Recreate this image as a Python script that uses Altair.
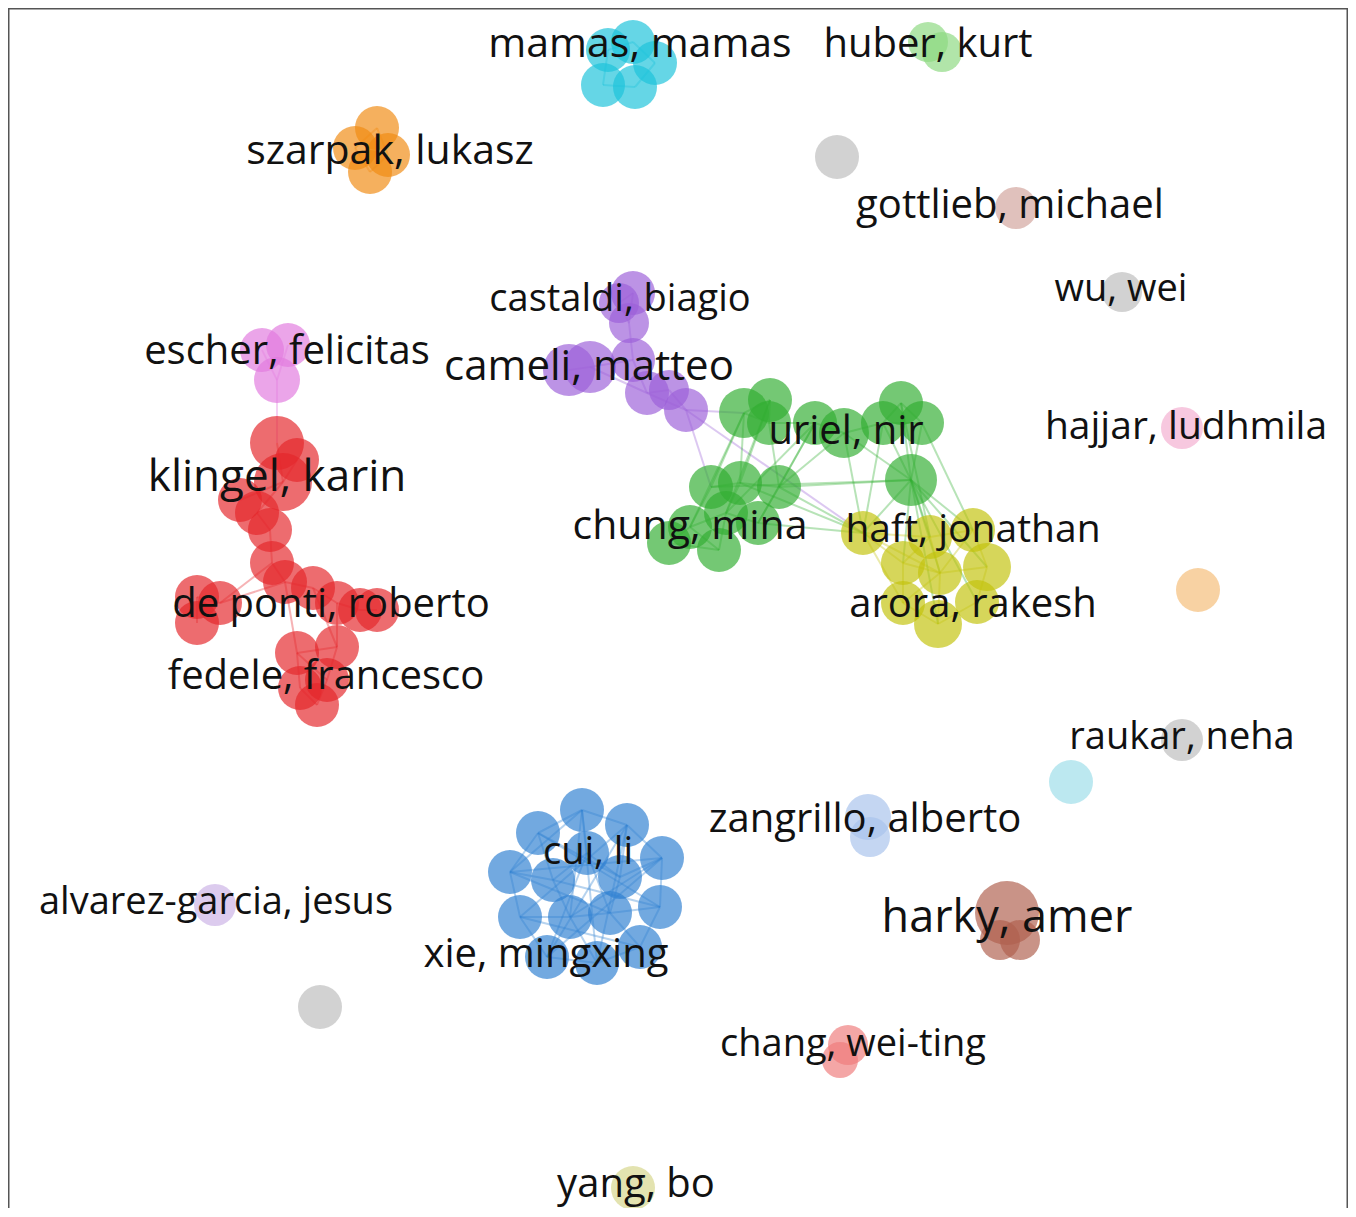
import altair as alt
import pandas as pd

# ---------------- data ----------------
cluster_names = ["red", "pink", "purple", "green", "yellow", "blue", "cyan", "lightgreen",
                 "orange", "gray", "rosy", "lightpink", "peach", "lightblue", "lightcyan",
                 "brown", "lavender", "salmon", "khaki"]
cluster_colors = ["#e4262b", "#e27ade", "#9c60d8", "#32ae32", "#c2c20c", "#2f80d2", "#1cc2da",
                  "#8cd880", "#f08a12", "#bcbcbc", "#d2a49c", "#f3aed0", "#f5bc78", "#a8c2ec",
                  "#9cdde9", "#b0604e", "#cbb2e6", "#ef7c7c", "#d6d68a"]

# node layout coordinates (x, y) and node weight (diameter)
nodes = {
    "red": [(277, 443, 54), (297, 460, 44), (283, 482, 58), (240, 500, 44), (257, 513, 44),
            (270, 530, 44), (272, 563, 44), (285, 582, 44), (313, 588, 44), (337, 603, 44),
            (360, 610, 44), (377, 610, 44), (197, 597, 44), (220, 603, 44), (197, 623, 44),
            (337, 647, 44), (297, 653, 44), (327, 680, 44), (300, 688, 44), (317, 705, 44)],
    "pink": [(262, 350, 44), (288, 345, 44), (277, 380, 46)],
    "purple": [(633, 293, 44), (619, 303, 40), (629, 323, 40), (569, 370, 52), (590, 367, 52),
               (633, 360, 44), (647, 393, 44), (669, 390, 40), (686, 410, 44)],
    "green": [(744, 413, 50), (770, 400, 44), (769, 423, 44), (815, 423, 44), (844, 433, 50),
              (901, 403, 44), (883, 423, 44), (922, 423, 44), (911, 480, 52), (711, 487, 44),
              (740, 483, 44), (779, 487, 44), (690, 527, 44), (726, 513, 44), (758, 523, 44),
              (669, 543, 44), (719, 550, 44)],
    "yellow": [(863, 533, 44), (903, 563, 44), (930, 537, 44), (973, 530, 44), (940, 573, 44),
               (987, 567, 48), (903, 603, 44), (938, 624, 48), (977, 602, 44)],
    "blue": [(582, 810, 44), (538, 833, 44), (627, 825, 44), (510, 872, 44), (662, 858, 44),
             (553, 880, 44), (587, 853, 44), (620, 877, 44), (520, 917, 44), (570, 917, 44),
             (610, 913, 44), (660, 907, 44), (547, 957, 44), (597, 963, 44), (640, 947, 44)],
    "cyan": [(633, 42, 44), (608, 50, 44), (655, 63, 44), (603, 85, 44), (635, 87, 44)],
    "lightgreen": [(928, 42, 40), (942, 52, 40)],
    "orange": [(377, 128, 44), (355, 148, 44), (388, 155, 44), (370, 172, 44)],
    "gray": [(837, 157, 44), (1122, 292, 40), (1182, 740, 42), (320, 1007, 44)],
    "rosy": [(1016, 208, 42)],
    "lightpink": [(1182, 428, 42)],
    "peach": [(1198, 590, 44)],
    "lightblue": [(868, 817, 46), (870, 837, 40)],
    "lightcyan": [(1071, 782, 44)],
    "brown": [(1007, 913, 64), (1000, 940, 40), (1020, 940, 40)],
    "lavender": [(215, 905, 42)],
    "salmon": [(848, 1045, 40), (840, 1060, 36)],
    "khaki": [(633, 1188, 44)],
}

# links: (cluster_a, index_a, cluster_b, index_b)
links = [
    ("pink", 0, "pink", 2), ("pink", 1, "pink", 2), ("pink", 2, "red", 0),
    ("red", 0, "red", 2), ("red", 1, "red", 2), ("red", 2, "red", 3), ("red", 2, "red", 4),
    ("red", 4, "red", 5), ("red", 5, "red", 6), ("red", 6, "red", 7), ("red", 7, "red", 8),
    ("red", 8, "red", 9), ("red", 9, "red", 10), ("red", 10, "red", 11), ("red", 6, "red", 13),
    ("red", 13, "red", 12), ("red", 12, "red", 14), ("red", 7, "red", 16), ("red", 8, "red", 15),
    ("red", 15, "red", 17), ("red", 16, "red", 18), ("red", 18, "red", 19), ("red", 17, "red", 19),
    ("red", 16, "red", 15), ("red", 9, "red", 15), ("red", 16, "red", 17), ("red", 13, "red", 7),
    ("purple", 0, "purple", 1), ("purple", 0, "purple", 2), ("purple", 1, "purple", 2),
    ("purple", 2, "purple", 5), ("purple", 3, "purple", 4), ("purple", 4, "purple", 5),
    ("purple", 5, "purple", 6), ("purple", 6, "purple", 7), ("purple", 7, "purple", 8),
    ("purple", 6, "purple", 8), ("purple", 4, "purple", 6),
    ("purple", 8, "green", 0), ("purple", 8, "green", 9), ("purple", 8, "yellow", 0),
    ("green", 0, "green", 1), ("green", 0, "green", 2), ("green", 1, "green", 2),
    ("green", 2, "green", 3), ("green", 3, "green", 4), ("green", 4, "green", 6),
    ("green", 5, "green", 6), ("green", 5, "green", 7), ("green", 6, "green", 7),
    ("green", 6, "green", 8), ("green", 7, "green", 8), ("green", 5, "green", 8),
    ("green", 4, "green", 8), ("green", 0, "green", 9), ("green", 0, "green", 10),
    ("green", 1, "green", 10), ("green", 2, "green", 11), ("green", 3, "green", 11),
    ("green", 9, "green", 10), ("green", 10, "green", 11), ("green", 9, "green", 12),
    ("green", 10, "green", 13), ("green", 11, "green", 14), ("green", 12, "green", 15),
    ("green", 13, "green", 16), ("green", 12, "green", 13), ("green", 13, "green", 14),
    ("green", 11, "green", 8), ("green", 9, "green", 8), ("green", 0, "green", 12),
    ("green", 1, "green", 13), ("green", 3, "green", 14), ("green", 4, "green", 11),
    ("green", 15, "green", 16), ("green", 12, "green", 16), ("green", 3, "green", 13),
    ("green", 8, "yellow", 0), ("green", 8, "yellow", 1), ("green", 8, "yellow", 2),
    ("green", 8, "yellow", 3), ("green", 8, "yellow", 4), ("green", 8, "yellow", 5),
    ("green", 8, "yellow", 7), ("green", 8, "yellow", 8), ("green", 6, "yellow", 0),
    ("green", 4, "yellow", 0), ("green", 14, "yellow", 0), ("green", 11, "yellow", 0),
    ("green", 7, "yellow", 3), ("green", 5, "yellow", 2), ("green", 10, "yellow", 0),
    ("yellow", 0, "yellow", 1), ("yellow", 0, "yellow", 2), ("yellow", 1, "yellow", 2),
    ("yellow", 1, "yellow", 4), ("yellow", 2, "yellow", 3), ("yellow", 2, "yellow", 4),
    ("yellow", 3, "yellow", 5), ("yellow", 4, "yellow", 5), ("yellow", 4, "yellow", 6),
    ("yellow", 4, "yellow", 7), ("yellow", 5, "yellow", 8), ("yellow", 6, "yellow", 7),
    ("yellow", 7, "yellow", 8), ("yellow", 1, "yellow", 6), ("yellow", 3, "yellow", 4),
    ("yellow", 0, "yellow", 6), ("yellow", 0, "yellow", 4),
    ("blue", 0, "blue", 1), ("blue", 0, "blue", 2), ("blue", 0, "blue", 6), ("blue", 0, "blue", 9),
    ("blue", 0, "blue", 13), ("blue", 1, "blue", 3), ("blue", 1, "blue", 5), ("blue", 1, "blue", 7),
    ("blue", 1, "blue", 11), ("blue", 2, "blue", 4), ("blue", 2, "blue", 7), ("blue", 2, "blue", 8),
    ("blue", 2, "blue", 12), ("blue", 3, "blue", 5), ("blue", 3, "blue", 8), ("blue", 3, "blue", 10),
    ("blue", 3, "blue", 4), ("blue", 4, "blue", 7), ("blue", 4, "blue", 11), ("blue", 4, "blue", 9),
    ("blue", 5, "blue", 9), ("blue", 5, "blue", 6), ("blue", 6, "blue", 7), ("blue", 6, "blue", 10),
    ("blue", 7, "blue", 10), ("blue", 8, "blue", 9), ("blue", 8, "blue", 12), ("blue", 8, "blue", 14),
    ("blue", 9, "blue", 10), ("blue", 9, "blue", 13), ("blue", 10, "blue", 11), ("blue", 10, "blue", 14),
    ("blue", 11, "blue", 14), ("blue", 12, "blue", 13), ("blue", 13, "blue", 14), ("blue", 12, "blue", 4),
    ("blue", 5, "blue", 11), ("blue", 6, "blue", 12), ("blue", 0, "blue", 3), ("blue", 2, "blue", 13),
    ("cyan", 0, "cyan", 1), ("cyan", 0, "cyan", 2), ("cyan", 1, "cyan", 3), ("cyan", 3, "cyan", 4),
    ("cyan", 2, "cyan", 4),
    ("orange", 0, "orange", 1), ("orange", 0, "orange", 2), ("orange", 1, "orange", 3),
    ("orange", 2, "orange", 3),
]

label_text = ["mamas, mamas", "huber, kurt", "szarpak, lukasz", "gottlieb, michael", "wu, wei",
              "castaldi, biagio", "escher, felicitas", "cameli, matteo", "hajjar, ludhmila",
              "uriel, nir", "klingel, karin", "chung, mina", "haft, jonathan", "de ponti, roberto",
              "arora, rakesh", "fedele, francesco", "raukar, neha", "zangrillo, alberto", "cui, li",
              "alvarez-garcia, jesus", "harky, amer", "xie, mingxing", "chang, wei-ting", "yang, bo"]
label_x = [640, 928, 390, 1010, 1121, 620, 287, 589, 1186, 846, 277, 690, 973, 331, 973, 326,
           1182, 865, 588, 216, 1007, 546, 853, 636]
label_y = [45, 45, 152, 206, 290, 300, 352, 367, 427, 432, 478, 527, 530, 605, 605, 677, 738,
           820, 853, 903, 918, 955, 1045, 1185]
label_weight = [41, 40, 41, 40, 38, 38, 40, 42, 39, 40, 44, 41, 39, 40, 40, 40, 38, 40, 38, 38,
                45, 40, 38, 40]

# ---------------- tables ----------------
node_rows = []
for c, lst in nodes.items():
    for (x, y, d) in lst:
        node_rows.append({"cluster": c, "x": x, "y": y, "d": d})
node_df = pd.DataFrame(node_rows)

edge_rows = []
for (ca, ia, cb, ib) in links:
    xa, ya, _ = nodes[ca][ia]
    xb, yb, _ = nodes[cb][ib]
    edge_rows.append({"cluster": ca, "x": xa, "y": ya, "x2": xb, "y2": yb})
edge_df = pd.DataFrame(edge_rows)

label_df = pd.DataFrame({"label": label_text, "x": label_x, "y": label_y, "fs": label_weight})

W, H = 1340, 1200
xs = alt.Scale(domain=[8, 8 + W], nice=False, zero=False)
ys = alt.Scale(domain=[8, 8 + H], nice=False, zero=False, reverse=True)
cs = alt.Scale(domain=cluster_names, range=cluster_colors)

edges = alt.Chart(edge_df).mark_rule(strokeWidth=2, opacity=0.35).encode(
    x=alt.X("x:Q", scale=xs, axis=None),
    y=alt.Y("y:Q", scale=ys, axis=None),
    x2="x2:Q", y2="y2:Q",
    color=alt.Color("cluster:N", scale=cs, legend=None),
)

circles = alt.Chart(node_df).mark_circle(opacity=0.68).encode(
    x=alt.X("x:Q", scale=xs, axis=None),
    y=alt.Y("y:Q", scale=ys, axis=None),
    size=alt.Size("d:Q", scale=alt.Scale(type="pow", exponent=2, domain=[0, 100], range=[0, 10000]), legend=None),
    color=alt.Color("cluster:N", scale=cs, legend=None),
)

labels = alt.Chart(label_df).mark_text(font="Open Sans", color="#111111", align="center",
                                       baseline="middle").encode(
    x=alt.X("x:Q", scale=xs, axis=None),
    y=alt.Y("y:Q", scale=ys, axis=None),
    text="label:N",
    size=alt.Size("fs:Q", scale=None),
)

frame_df = pd.DataFrame({"k": [0]})
top = alt.Chart(frame_df).mark_rule(color="#555555", strokeWidth=1.5).encode(
    x=alt.value(0), x2=alt.value(W), y=alt.value(0.75))
left = alt.Chart(frame_df).mark_rule(color="#555555", strokeWidth=1.5).encode(
    x=alt.value(0.75), y=alt.value(0), y2=alt.value(H))
right = alt.Chart(frame_df).mark_rule(color="#555555", strokeWidth=1.5).encode(
    x=alt.value(W - 0.75), y=alt.value(0), y2=alt.value(H))

chart = alt.layer(edges, circles, labels, top, left, right).properties(
    width=W, height=H, padding=0, autosize=alt.AutoSizeParams(type="none"),
    background="white",
).configure_view(stroke=None)

chart.save("out.html", embed_options={"renderer": "svg", "actions": False})
